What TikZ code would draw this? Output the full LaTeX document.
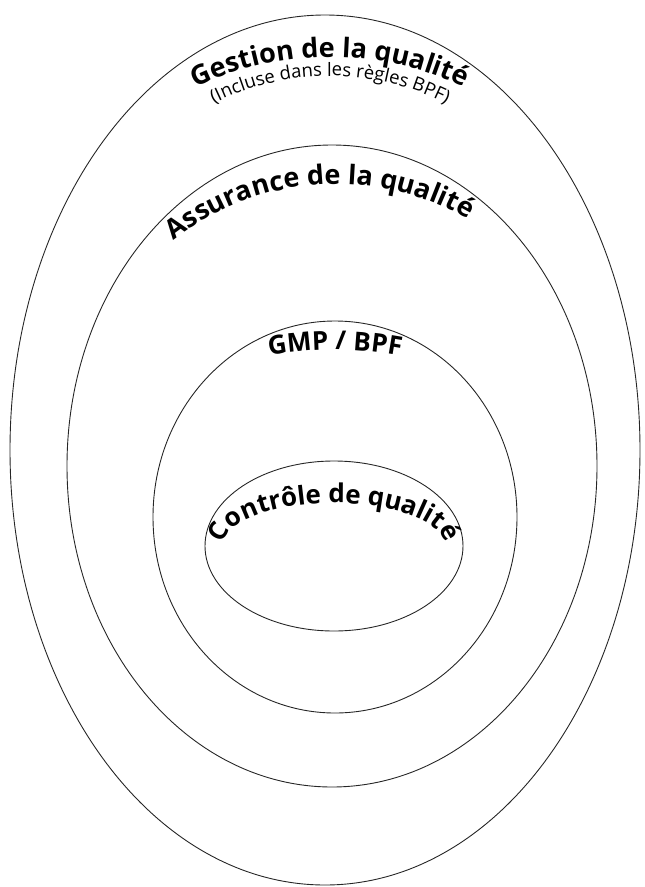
\documentclass[tikz,border=0pt]{standalone}
\usepackage{fontspec}
\setmainfont{Open Sans}
\usetikzlibrary{decorations.text}
\tikzset{
  ring/.style={draw=black!85, line width=0.9pt},
  curvetext/.style={decorate, decoration={text along path, text align=center, text={#1}}}
}
\begin{document}
\begin{tikzpicture}[x=1pt,y=1pt]
\useasboundingbox (0,0) rectangle (645,-887);
% centres
\coordinate (cA) at (325,-450);
\coordinate (cB) at (332,-466);
\coordinate (cC) at (335,-517);
\coordinate (cD) at (334,-546);
% ellipses
\draw[ring] (cA) ellipse [x radius=315, y radius=435];
\draw[ring] (cB) ellipse [x radius=265, y radius=321];
\draw[ring] (cC) ellipse [x radius=182, y radius=196];
\draw[ring] (cD) ellipse [x radius=129, y radius=85];
% text arcs
\coordinate (tA) at (330,-366);
\coordinate (tS) at (330,-334);
\coordinate (tB) at (336,-446);
\coordinate (tC) at (335,-705);
\path[curvetext={|\fontsize{27}{27}\selectfont\bfseries|Gestion de la qualité}]
  (tA) ++(125:309) arc[start angle=125, end angle=55, radius=309];
\path[curvetext={|\fontsize{18.5}{18.5}\selectfont|(Incluse dans les règles BPF)}]
  (tS) ++(130:258) arc[start angle=130, end angle=50, radius=258];
\path[curvetext={|\fontsize{27}{27}\selectfont\bfseries|Assurance de la qualité}]
  (tB) ++(139:262) arc[start angle=139, end angle=49, radius=262];
\path[curvetext={|\fontsize{26}{26}\selectfont\bfseries|GMP / BPF}]
  (tC) ++(110:355) arc[start angle=110, end angle=70, radius=355];
\path[curvetext={|\fontsize{26}{26}\selectfont\bfseries|Contrôle de qualité}]
  (cD) ++(195:111 and 43) arc[start angle=195, end angle=-15, x radius=111, y radius=43];
\end{tikzpicture}
\end{document}
